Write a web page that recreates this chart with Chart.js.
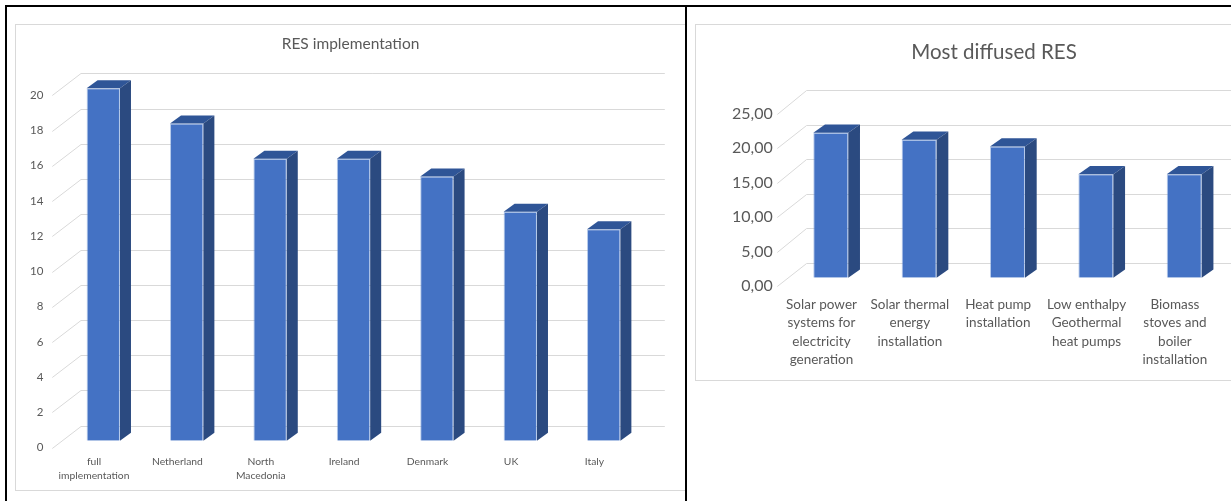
<!DOCTYPE html>
<html>
<head>
<meta charset="utf-8">
<script src="https://cdn.jsdelivr.net/npm/chart.js@4.4.1/dist/chart.umd.min.js"></script>
<style>
  body { margin: 0; width: 1231px; height: 501px; overflow: hidden; background: #fff; position: relative; }
  .rule { position: absolute; background: #000; }
  .box { position: absolute; border: 1px solid #d9d9d9; background: #fff; }
  canvas { display: block; }
</style>
</head>
<body>
<div class="box" style="left:15px;top:24px;"><canvas id="resChart" width="669" height="465"></canvas></div>
<div class="box" style="left:695px;top:24px;"><canvas id="diffusedChart" width="596" height="355"></canvas></div>
<div class="rule" style="left:5px;top:5px;width:1226px;height:2px;"></div>
<div class="rule" style="left:5px;top:5px;width:2px;height:496px;"></div>
<div class="rule" style="left:685px;top:5px;width:2px;height:496px;"></div>
<script>
// RES implementation
const resLabels = [['full', 'implementation'], 'Netherland', ['North', 'Macedonia'], 'Ireland', 'Denmark', 'UK', 'Italy'];
const resValues = [20, 18, 16, 16, 15, 13, 12];
const resTicks = { min: 0, max: 20, step: 2 };

// Most diffused RES
const diffusedLabels = [
  ['Solar power', 'systems for', 'electricity', 'generation'],
  ['Solar thermal', 'energy', 'installation'],
  ['Heat pump', 'installation'],
  ['Low enthalpy', 'Geothermal', 'heat pumps'],
  ['Biomass', 'stoves and', 'boiler', 'installation']
];
const diffusedValues = [21, 20, 19, 15, 15];
const diffusedTicks = { min: 0, max: 25, step: 5 };

const TEXT = '#595959';
const GRID = '#d9d9d9';
const FRONT = '#4472c4';

// excel-like 3d look: back wall grid, diagonals and the side/top of each bar.
// the title is drawn here too so it stays centred on the whole box
const depth3d = {
  id: 'depth3d',
  beforeDatasetsDraw(chart, args, opts) {
    const { ctx, chartArea: a } = chart;
    const y = chart.scales.y;
    ctx.save();
    ctx.strokeStyle = GRID;
    ctx.lineWidth = 1;
    y.ticks.forEach(t => {
      const py = y.getPixelForValue(t.value);
      const fy = Math.round(py + opts.front.dy) + 0.5;
      const by = Math.round(py + opts.back.dy) + 0.5;
      ctx.beginPath();
      ctx.moveTo(a.left + opts.front.dx, fy);
      ctx.lineTo(a.left + opts.back.dx, by);
      ctx.lineTo(a.right + opts.back.dx, by);
      ctx.stroke();
    });
    ctx.restore();
  },
  afterDatasetsDraw(chart, args, opts) {
    const { ctx } = chart;
    const { dx, dy } = opts.bar;
    ctx.save();
    chart.getDatasetMeta(0).data.forEach(bar => {
      const { x, y, base, width } = bar.getProps(['x', 'y', 'base', 'width'], true);
      const l = x - width / 2, r = x + width / 2;
      ctx.fillStyle = '#2f5597';
      ctx.beginPath();
      ctx.moveTo(l, y); ctx.lineTo(l + dx, y + dy); ctx.lineTo(r + dx, y + dy); ctx.lineTo(r, y);
      ctx.closePath(); ctx.fill();
      ctx.fillStyle = '#2b4a80';
      ctx.beginPath();
      ctx.moveTo(r, y); ctx.lineTo(r + dx, y + dy); ctx.lineTo(r + dx, base + dy); ctx.lineTo(r, base);
      ctx.closePath(); ctx.fill();
    });
    ctx.restore();
  },
  afterDraw(chart, args, opts) {
    const { ctx } = chart;
    ctx.save();
    ctx.fillStyle = TEXT;
    ctx.font = `${opts.title.size}px Lato`;
    ctx.textAlign = 'center';
    ctx.textBaseline = 'middle';
    ctx.fillText(opts.title.text, chart.width / 2, opts.title.y);
    ctx.restore();
  }
};

const makeChart = (id, labels, values, t, s) => new Chart(document.getElementById(id), {
  type: 'bar',
  data: {
    labels: labels,
    datasets: [{
      data: values,
      backgroundColor: FRONT,
      borderColor: 'rgba(110,150,215,0.5)',
      borderWidth: 1,
      barPercentage: s.barPct,
      categoryPercentage: 1
    }]
  },
  options: {
    responsive: false,
    devicePixelRatio: 1,
    animation: false,
    layout: { padding: { left: 0, right: s.padRight, top: s.padTop, bottom: 0 } },
    plugins: {
      legend: { display: false },
      tooltip: { enabled: false },
      title: { display: false },
      depth3d: s.depth
    },
    scales: {
      x: {
        grid: { display: false, drawTicks: false },
        border: { display: false },
        afterFit: sc => { sc.height = s.xHeight; },
        ticks: {
          color: TEXT,
          maxRotation: 0,
          autoSkip: false,
          padding: s.xPad,
          labelOffset: s.depth.front.dx,
          font: { family: 'Lato', size: s.xSize, lineHeight: s.xLine }
        }
      },
      y: {
        min: t.min,
        max: t.max,
        grid: { display: false, drawTicks: false },
        border: { display: false },
        afterFit: sc => { sc.width = s.yWidth; },
        ticks: {
          stepSize: t.step,
          color: TEXT,
          padding: s.yPad,
          labelOffset: s.depth.front.dy,
          font: { family: 'Lato', size: s.ySize },
          callback: s.fmt
        }
      }
    }
  },
  plugins: [depth3d]
});

document.fonts.load('16px Lato').then(() => {
  makeChart('resChart', resLabels, resValues, resTicks, {
    padTop: 63.3, padRight: 39.6, barPct: 0.4, xHeight: 49.3, xPad: 14, xSize: 10.3, xLine: '14px',
    yWidth: 45.6, yPad: 18.3, ySize: 11.5,
    fmt: v => v,
    depth: {
      title: { text: 'RES implementation', size: 15.5, y: 19 },
      front: { dx: -9.3, dy: 7 }, back: { dx: 19.4, dy: -15 }, bar: { dx: 11, dy: -8 }
    }
  });
  makeChart('diffusedChart', diffusedLabels, diffusedValues, diffusedTicks, {
    padTop: 80.2, padRight: 63.6, barPct: 0.396, xHeight: 102.3, xPad: 17.7, xSize: 13.5, xLine: '18.3px',
    yWidth: 90.6, yPad: 13.9, ySize: 16,
    fmt: v => v.toFixed(2).replace('.', ','),
    depth: {
      title: { text: 'Most diffused RES', size: 20.5, y: 27 },
      front: { dx: -9.3, dy: 8.5 }, back: { dx: 20, dy: -15 }, bar: { dx: 11.7, dy: -8.3 }
    }
  });
});
</script>
</body>
</html>
